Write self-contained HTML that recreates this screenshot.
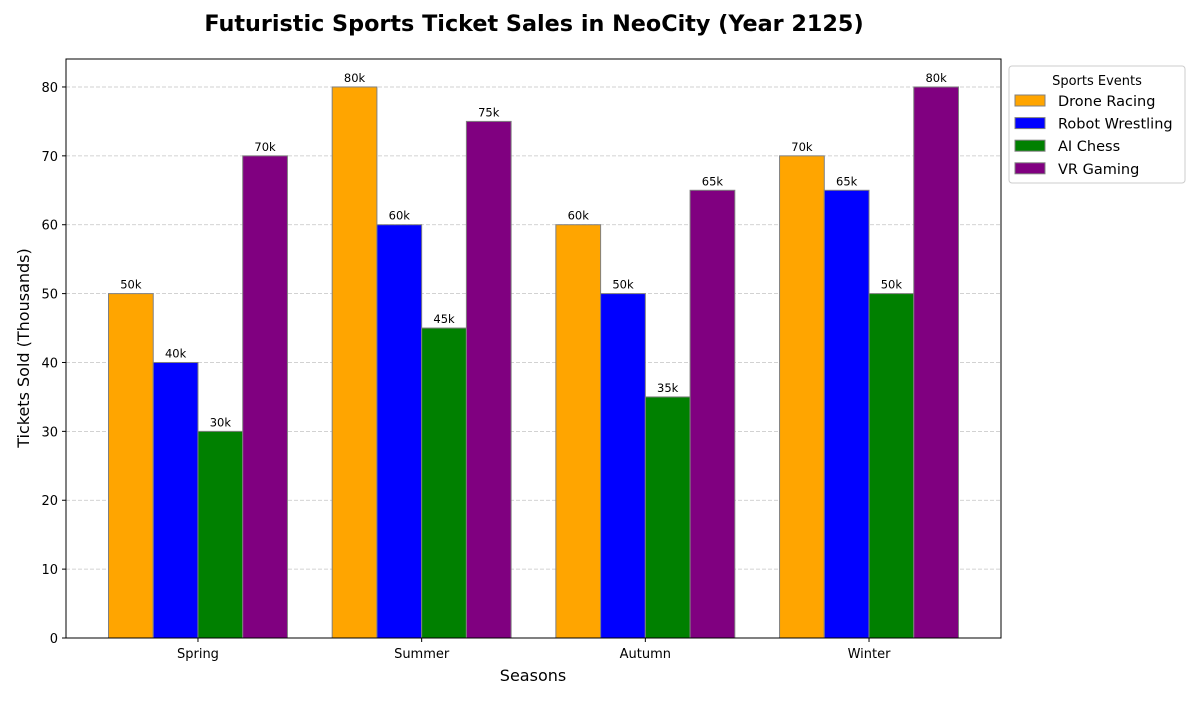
<!DOCTYPE html>
<html><head><meta charset="utf-8"><style>
body{margin:0;background:#fff;}
svg text{font-family:"DejaVu Sans","Liberation Sans",sans-serif;}
</style></head><body>
<svg id="chart" width="1200" height="700" xmlns="http://www.w3.org/2000/svg">
<rect width="1200" height="700" fill="#fff"/>
<text x="534" y="31" text-anchor="middle" font-size="22.3" font-weight="bold">Futuristic Sports Ticket Sales in NeoCity (Year 2125)</text>
<g id="grid"></g>
<g id="bars"></g>
<g id="labels"></g>
<rect x="66" y="59" width="935" height="579" fill="none" stroke="#000" stroke-width="1"/>
<g id="axes"></g>
<text x="533" y="681" text-anchor="middle" font-size="16">Seasons</text>
<text transform="translate(29,348) rotate(-90)" text-anchor="middle" font-size="16">Tickets Sold (Thousands)</text>
<g>
<rect x="1009" y="66" width="176" height="117" rx="3" fill="#fff" stroke="#ccc"/>
<text x="1097" y="85" text-anchor="middle" font-size="13">Sports Events</text>
<g id="legend-items"></g>
</g>
</svg>
<script>
const categories=["Spring","Summer","Autumn","Winter"];
const seriesNames=["Drone Racing","Robot Wrestling","AI Chess","VR Gaming"];
const droneRacing=[50,80,60,70];
const robotWrestling=[40,60,50,65];
const aiChess=[30,45,35,50];
const vrGaming=[70,75,65,80];
const yTicks=[0,10,20,30,40,50,60,70,80];
const colors=["orange","blue","green","purple"];
const series=[droneRacing,robotWrestling,aiChess,vrGaming];
const NS="http://www.w3.org/2000/svg";
const L=66,R=1001,T=59,B=638,ymax=84.06;
const xs=i=>L+(i+0.59)/4.18*(R-L);
const ys=v=>B-v/ymax*(B-T);
const bw=0.2/4.18*(R-L);
function mk(tag,attrs,parent){const e=document.createElementNS(NS,tag);for(const k in attrs)e.setAttribute(k,attrs[k]);parent.appendChild(e);return e;}
const grid=document.getElementById('grid'),bars=document.getElementById('bars'),labels=document.getElementById('labels'),axes=document.getElementById('axes'),leg=document.getElementById('legend-items');
yTicks.forEach(t=>{
 const y=ys(t);
 const g=mk('line',{x1:L,x2:R,y1:y,y2:y,stroke:'#c4c4c4','stroke-dasharray':'4,2','stroke-width':0.8},grid);
 
 
 mk('line',{x1:L-4,x2:L,y1:y,y2:y,stroke:'#000'},axes);
 const tx=mk('text',{x:L-8,y:y+5,'text-anchor':'end','font-size':13},axes);
 tx.textContent=t;
 
 
});
categories.forEach((c,i)=>{
 const x=xs(i);
 mk('line',{x1:x,x2:x,y1:B,y2:B+4,stroke:'#000'},axes);
 const tx=mk('text',{x:x,y:B+20,'text-anchor':'middle','font-size':13},axes);
 tx.textContent=c;
 
 
 series.forEach((s,j)=>{
  const bx=x+(j-2)*bw, y=ys(s[i]);
  const r=mk('rect',{x:bx,y:y,width:bw,height:B-y,fill:colors[j],stroke:'grey','stroke-width':1},bars);
  
  
  const t=mk('text',{x:bx+bw/2,y:y-5,'text-anchor':'middle','font-size':11.5},labels);
  t.textContent=s[i]+'k';
  
  
 });
});
seriesNames.forEach((n,j)=>{
 const y=101+j*22.6;
 const r=mk('rect',{x:1015,y:y-6,width:30,height:11,fill:colors[j],stroke:'grey'},leg);
 
 
 const t=mk('text',{x:1058,y:y+5,'font-size':14.5},leg);
 t.textContent=n;
 
 
});
</script>
</body></html>
